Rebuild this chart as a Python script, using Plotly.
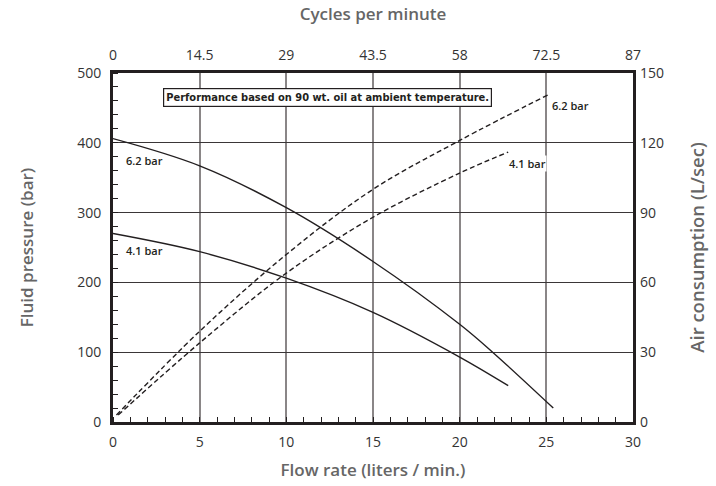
import plotly.graph_objects as go

# Flow rate (liters / min.) vs. fluid pressure (bar)
flow_fluid_62 = [0, 5, 10, 15, 20, 21.9, 25.4]
pres_fluid_62 = [406, 367, 307, 230, 140, 100, 20]
flow_fluid_41 = [0, 5, 10, 15, 20, 22.8]
pres_fluid_41 = [270, 244, 206, 157, 93, 52]

# Flow rate vs. air consumption (L/sec)
flow_air_62 = [0.2, 5, 10, 15, 20, 25.2]
air_62 = [3, 39, 72, 100, 121, 141]
flow_air_41 = [0.3, 5, 10, 15, 20, 22.8]
air_41 = [3, 34, 64, 88, 107, 116]

# Axis ticks
flow_ticks = [0, 5, 10, 15, 20, 25, 30]
cycle_labels = ["0", "14.5", "29", "43.5", "58", "72.5", "87"]
pressure_ticks = [0, 100, 200, 300, 400, 500]
air_ticks = [0, 30, 60, 90, 120, 150]

INK = "#231f20"
TITLE = "#666666"
TICK = "#333333"

fig = go.Figure()

for xs, ys in [(flow_fluid_62, pres_fluid_62), (flow_fluid_41, pres_fluid_41)]:
    fig.add_trace(go.Scatter(x=xs, y=ys, mode="lines", line=dict(color=INK, width=1.4, shape="spline"),
                             xaxis="x", yaxis="y", showlegend=False, hoverinfo="skip"))
for xs, ys in [(flow_air_62, air_62), (flow_air_41, air_41)]:
    fig.add_trace(go.Scatter(x=xs, y=ys, mode="lines",
                             line=dict(color=INK, width=1.4, dash="5px,3px", shape="spline"),
                             xaxis="x", yaxis="y2", showlegend=False, hoverinfo="skip"))
# dummy trace to activate the top axis
fig.add_trace(go.Scatter(x=[0, 30], y=[None, None], xaxis="x2", yaxis="y", showlegend=False, hoverinfo="skip"))

tick_font = dict(family="Open Sans, Noto Sans, sans-serif", size=14, color=TICK)
title_font = dict(family="Open Sans, Noto Sans, sans-serif", size=17, color=TITLE, weight=600)
right_title_font = dict(family="Open Sans, Noto Sans, sans-serif", size=18.5, color=TITLE, weight=600)

fig.update_layout(
    width=716, height=486,
    margin=dict(l=113, r=83, t=73, b=64),
    paper_bgcolor="white", plot_bgcolor="white",
    xaxis=dict(range=[0, 30], tickvals=flow_ticks, ticks="", showgrid=True, gridcolor="#8a8687",
               gridwidth=1.5, zeroline=False, showline=True, linecolor=INK, linewidth=3, mirror=True,
               tickfont=tick_font, ticklabelstandoff=5, automargin=False,
               minor=dict(dtick=1, ticks="inside", ticklen=5, tickcolor=INK, tickwidth=1, showgrid=False),
               title=dict(text="Flow rate (liters / min.)", font=title_font, standoff=15)),
    xaxis2=dict(range=[0, 30], overlaying="x", side="top", tickvals=flow_ticks, ticktext=cycle_labels,
                ticks="", showgrid=False, zeroline=False, showline=False, tickfont=tick_font,
                ticklabelstandoff=9, automargin=False,
                title=dict(text="Cycles per minute", font=title_font, standoff=20)),
    yaxis=dict(range=[0, 500], tickvals=pressure_ticks, ticks="", showgrid=True, gridcolor="#3a3637",
               gridwidth=1, zeroline=False, showline=True, linecolor=INK, linewidth=3, mirror=True,
               tickfont=tick_font, ticklabelstandoff=6, automargin=False,
               minor=dict(dtick=20, ticks="inside", ticklen=5, tickcolor=INK, tickwidth=1, showgrid=False),
               title=dict(text="Fluid pressure (bar)", font=title_font, standoff=40)),
    yaxis2=dict(range=[0, 150], overlaying="y", side="right", tickvals=air_ticks, ticks="",
                showgrid=False, zeroline=False, showline=False, tickfont=tick_font, ticklabelstandoff=6,
                automargin=False,
                title=dict(text="Air consumption (L/sec)", font=right_title_font, standoff=28)),
)

label_font = dict(family="Open Sans, Noto Sans, sans-serif", size=11, color=INK, weight=600)
for x, y, t, bg in [(1.82, 374, "6.2 bar", None), (1.82, 246, "4.1 bar", None),
                    (26.4, 453, "6.2 bar", "white"), (23.9, 370, "4.1 bar", "white")]:
    fig.add_annotation(x=x, y=y, xref="x", yref="y", text=t, showarrow=False, font=label_font,
                       bgcolor=bg, borderpad=0)

fig.add_annotation(x=12.4, y=465, xref="x", yref="y",
                   text="Performance based on 90 wt. oil at ambient temperature.", showarrow=False,
                   font=dict(family="Liberation Sans Narrow, Arial Narrow, DejaVu Sans Condensed, sans-serif",
                             size=11, color=INK, weight=700),
                   bgcolor="white", bordercolor=INK, borderwidth=1.2, borderpad=2)

fig.write_html("out.html")
